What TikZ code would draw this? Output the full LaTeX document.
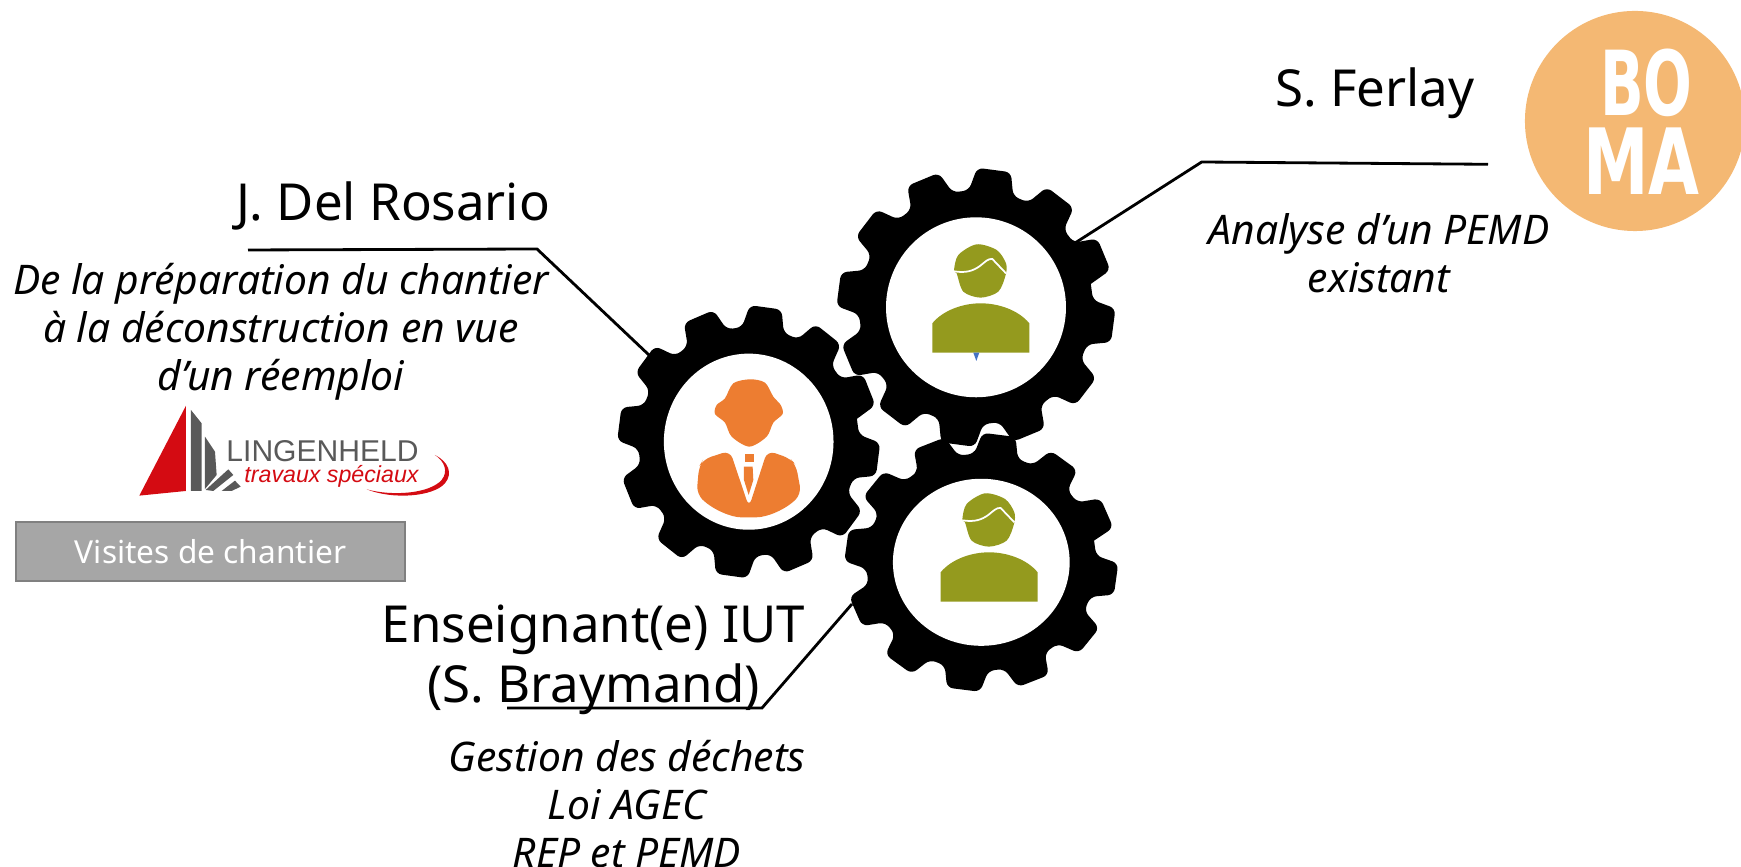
\documentclass[tikz,border=0pt]{standalone}
\usepackage{fontspec}
\usepackage{tikz}
\usetikzlibrary{shapes.geometric}
\setmainfont{Noto Sans}
\newfontfamily\logofont{DejaVu Sans}
\newfontfamily\brandfont{Liberation Sans}
\definecolor{personorange}{HTML}{ED7D31}
\definecolor{persongreen}{HTML}{949A1E}
\definecolor{bomaorange}{HTML}{F4B873}
\definecolor{logored}{HTML}{D40B12}
\definecolor{logogrey}{HTML}{595959}
\definecolor{tieblue}{HTML}{4472C4}
\tikzset{
	nametext/.style={align=center,font=\fontsize{14.5}{17}\selectfont},
	notetext/.style={align=center,font=\fontsize{11.6}{13.6}\selectfont\itshape},
	leader/.style={draw=black,line width=0.8pt},
	wheelhole/.style={ellipse,fill=white,inner sep=0pt}
}
\newcommand{\gearwheel}[5]{
	\fill[black,rounded corners=0.6mm,shift={(#1,#2)},xscale=#3,yscale=#4] (11.5:0.84)
		foreach \a in {0,30,...,330} { -- ({\a+15.5}:1) -- ({\a+29.5}:1) -- ({\a+33.5}:0.84) -- ({\a+41.5}:0.84) };
	\node (#5) at (#1,#2) [wheelhole,minimum width=#3*0.0129cm,minimum height=#4*0.0129cm] {};
}
\newcommand{\greenperson}[2]{
	\begin{scope}[shift={(#1,#2)},scale=0.3333,yscale=-1]
		\fill[persongreen] plot[smooth cycle] coordinates {(372,332) (385,285) (440,253) (500,270) (528,310) (527,345) (505,395) (452,413) (400,395) (380,340)};
		\fill[persongreen] (307,578) -- (307,490) .. controls (340,450) and (400,430) .. (452,430) .. controls (505,430) and (565,450) .. (598,490) -- (598,578) -- cycle;
		\draw[white,line width=0.5pt] (372,334) .. controls (410,340) and (430,332) .. (450,318) .. controls (465,306) and (475,295) .. (487,297) -- (528,340);
	\end{scope}
}
\begin{document}
\begin{tikzpicture}[x=0.01cm,y=0.01cm]
	\useasboundingbox (0,0) rectangle (1741,867);

	\coordinate (rosarioa) at (248,617);
	\coordinate (rosariob) at (537,618);
	\coordinate (rosarioc) at (650,511);
	\coordinate (ferlaya) at (1488,702.7);
	\coordinate (ferlayb) at (1201.7,705);
	\coordinate (ferlayc) at (1075,624);
	\coordinate (iuta) at (507,159);
	\coordinate (iutb) at (762,159);
	\coordinate (iutc) at (852,263);

	\draw[leader] (rosarioa) -- (rosariob) -- (rosarioc);
	\draw[leader] (ferlaya) -- (ferlayb) -- (ferlayc);
	\draw[leader] (iuta) -- (iutb) -- (iutc);

	% the three wheels
	\gearwheel{976}{559.7}{139.5}{139.5}{wheeltop}
	\gearwheel{748.7}{425.3}{131.5}{136.5}{wheelleft}
	\gearwheel{981.3}{304.7}{137}{129.5}{wheelbottom}

	\greenperson{830}{707}
	\greenperson{838.33}{458}
	\begin{scope}[shift={(830,707)},scale=0.3333,yscale=-1]
		\fill[tieblue] (430,578) -- (448,578) -- (439,603) -- cycle;
	\end{scope}

	% orange person
	\begin{scope}[shift={(610,577)},scale=0.3333,yscale=-1]
		\fill[personorange] plot[smooth cycle] coordinates {(420,268) (370,280) (345,325) (320,345) (315,372) (345,398) (365,440) (418,470) (470,440) (490,398) (518,372) (512,345) (490,320) (465,278)};
		\fill[personorange,rounded corners=0.8mm] (360,482) -- (280,508) -- (267,530) -- (260,612) .. controls (310,660) and (365,682) .. (416,682) .. controls (470,682) and (525,660) .. (574,612) -- (558,525) -- (540,505) -- (472,482) -- (417,652) -- cycle;
		\fill[personorange] (405,492) rectangle (433,515);
		\fill[personorange] (402,530) -- (428,530) -- (430,570) -- (416,615) -- (402,570) -- cycle;
	\end{scope}

	% names and notes
	\node (rosarioname) at (393,646) [nametext,anchor=base] {J. Del Rosario};
	\node (rosarionote) at (281,535) [notetext] {De la préparation du chantier\\à la déconstruction en vue\\d’un réemploi};
	\node (ferlayname) at (1375,760) [nametext,anchor=base] {S. Ferlay};
	\node (ferlaynote) at (1379,614) [notetext] {Analyse d’un PEMD\\existant};
	\node (iutname) at (593.5,207.5) [nametext] {Enseignant(e) IUT\\(S. Braymand)};
	\node (iutnote) at (627,63) [notetext] {Gestion des déchets\\Loi AGEC\\REP et PEMD};

	\node (visites) at (210.5,315.5) [draw=black!50,fill=black!35,line width=0.5pt,minimum width=3.89cm,minimum height=0.59cm,inner sep=0pt,text=white,font=\fontsize{9}{10}\selectfont] {Visites de chantier};

	% logo lingenheld
	\begin{scope}[shift={(0,477)},scale=0.3333,yscale=-1]
		\fill[logored] (418,317) -- (558,47) -- (558,303) -- cycle;
		\fill[logogrey] (573,60) -- (605,100) -- (605,303) -- (573,303) -- cycle;
		\fill[logogrey] (615,140) -- (645,185) -- (650,255) -- (615,297) -- cycle;
		\fill[logogrey] (617,300) -- (685,238) -- (700,255) -- (640,303) -- cycle;
		\fill[logogrey] (665,303) -- (705,272) -- (722,290) -- (695,303) -- cycle;
		\fill[logored] (1305,195) .. controls (1345,215) and (1360,250) .. (1335,280) .. controls (1300,320) and (1180,330) .. (1100,298) .. controls (1180,320) and (1290,310) .. (1325,270) .. controls (1345,245) and (1335,215) .. (1305,195) -- cycle;
	\end{scope}
	\node (logoname) at (322.5,415.5) [text=logogrey,inner sep=0pt,font=\brandfont\fontsize{8.55}{10}\selectfont] {LINGENHELD};
	\node (logonote) at (331.5,391) [text=logored,inner sep=0pt,font=\brandfont\itshape\fontsize{6.6}{8}\selectfont] {travaux spéciaux};

	% logo boma
	\node (bomadisc) at (1635,746) [circle,fill=bomaorange,minimum size=2.2cm,inner sep=0pt] {};
	\node (bomatop) at (1646.5,784.5) [text=white,inner sep=0pt,xscale=0.64,transform shape,font=\logofont\bfseries\fontsize{25.5}{26}\selectfont] {BO};
	\node (bomabottom) at (1641.5,705.5) [text=white,inner sep=0pt,xscale=0.72,transform shape,font=\logofont\bfseries\fontsize{26}{26}\selectfont] {MA};
\end{tikzpicture}
\end{document}
